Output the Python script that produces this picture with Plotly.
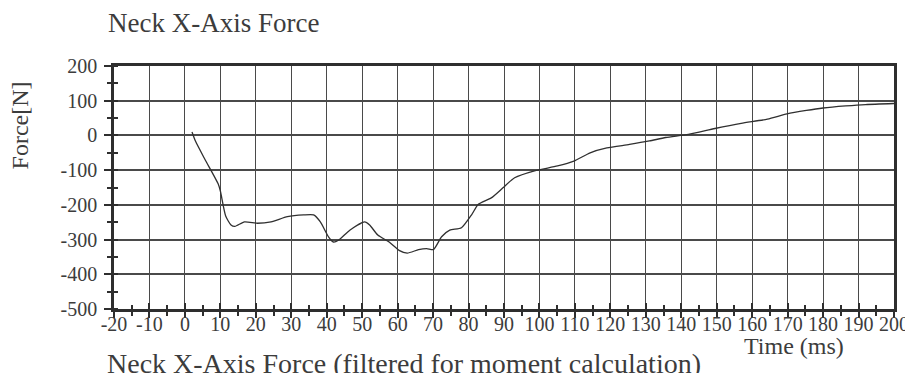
import plotly.graph_objects as go

# ---- data ----
time_ms = [2, 3, 5.7, 9.4, 10, 11.5, 13, 14.1, 16.8, 20.5, 24.3, 28.9, 33.5, 36.3, 38.2,
           40.5, 41.9, 43.3, 46.5, 50.7, 52.1, 54.4, 57.6, 60.4, 62.7, 65.9, 68.2, 70.1,
           72.4, 74.7, 78, 80.9, 82.7, 86.4, 89.7, 93, 98.6, 105.1, 109.7, 114.3, 119,
           125.4, 131, 135.6, 142, 149.5, 156.9, 164.3, 169.8, 175.3, 180, 186.4, 192, 200]
force_n = [10, -17, -70, -140, -160, -232, -258, -262, -249, -253, -249, -234, -229, -229, -249,
           -292, -307, -302, -273, -249, -258, -287, -307, -331, -339, -329, -326, -329,
           -292, -273, -266, -228, -199, -180, -151, -122, -102, -88, -74, -50, -36,
           -26, -16, -6, 3, 20, 35, 47, 62, 72, 79, 85, 89, 92]

x_ticks = list(range(-20, 201, 10))
y_ticks = list(range(-500, 201, 100))

title_text = "Neck X-Axis Force"
x_title = "Time (ms)"
y_title = "Force[N]"
next_title = "Neck X-Axis Force (filtered for moment calculation)"

# ---- layout geometry ----
W, H = 913, 373
L, R, T, B = 106, 15, 58, 72
PW, PH = W - L - R, H - T - B


def xp(px):
    return (px - L) / PW


def yp(py):
    return (H - B - py) / PH


FONT = "Liberation Serif, Times New Roman, serif"
TXT = "#3c3c3c"
GRID = "#4a4a4a"
AX = "#2e2e2e"

fig = go.Figure()
fig.add_trace(go.Scatter(x=time_ms, y=force_n, mode="lines",
                         line=dict(color="#303030", width=1.3, shape="spline", smoothing=0.6),
                         hoverinfo="skip", showlegend=False))
# invisible companion trace for the overlay axes (inside ticks)
fig.add_trace(go.Scatter(x=time_ms, y=force_n, mode="lines", xaxis="x2", yaxis="y2",
                         line=dict(color="rgba(0,0,0,0)", width=0),
                         hoverinfo="skip", showlegend=False))

fig.update_layout(
    width=W, height=H,
    margin=dict(l=L, r=R, t=T, b=B),
    paper_bgcolor="white", plot_bgcolor="white",
    font=dict(family=FONT, color=TXT, size=20),
    xaxis=dict(range=[-20, 200], tickvals=x_ticks, ticktext=[str(v) for v in x_ticks],
               showgrid=True, gridcolor=GRID, gridwidth=1.2, zeroline=False,
               showline=True, linecolor=AX, linewidth=2.6, mirror=True,
               ticks="outside", ticklen=6, tickwidth=1.6, tickcolor=AX,
               ticklabelstandoff=-11,
               minor=dict(dtick=5, tick0=0, ticks="outside", ticklen=4, tickwidth=1.6,
                          tickcolor=AX, showgrid=False),
               tickfont=dict(size=20, family=FONT, color=TXT)),
    yaxis=dict(range=[-500, 200], tickvals=y_ticks, ticktext=[str(v) for v in y_ticks],
               showgrid=True, gridcolor=GRID, gridwidth=1.8, zeroline=False,
               showline=True, linecolor=AX, linewidth=2.6, mirror=True,
               ticks="outside", ticklen=7, tickwidth=1.6, tickcolor=AX,
               ticklabelstandoff=3,
               minor=dict(dtick=50, tick0=0, ticks="outside", ticklen=4, tickwidth=1.6,
                          tickcolor=AX, showgrid=False),
               tickfont=dict(size=20, family=FONT, color=TXT)),
    xaxis2=dict(range=[-20, 200], overlaying="x", anchor="y2", side="bottom",
                tickvals=x_ticks, showticklabels=False, showgrid=False, zeroline=False,
                showline=False, ticks="inside", ticklen=6, tickwidth=1.6, tickcolor=AX,
                minor=dict(dtick=5, tick0=0, ticks="inside", ticklen=4, tickwidth=1.6,
                           tickcolor=AX, showgrid=False)),
    yaxis2=dict(range=[-500, 200], overlaying="y", anchor="x2", side="left",
                tickvals=y_ticks, showticklabels=False, showgrid=False, zeroline=False,
                showline=False, ticks="",
                minor=dict(dtick=50, tick0=0, ticks="inside", ticklen=4, tickwidth=1.6,
                           tickcolor=AX, showgrid=False)),
    annotations=[
        dict(text=title_text, xref="paper", yref="paper", x=xp(98), y=yp(15),
             xanchor="left", yanchor="middle", showarrow=False,
             font=dict(size=27, family=FONT, color=TXT)),
        dict(text=y_title, xref="paper", yref="paper", x=xp(11), y=yp(117),
             xanchor="center", yanchor="middle", textangle=-90, showarrow=False,
             font=dict(size=24, family=FONT, color=TXT)),
        dict(text=x_title, xref="paper", yref="paper", x=xp(796), y=yp(338),
             xanchor="center", yanchor="middle", showarrow=False,
             font=dict(size=24, family=FONT, color=TXT)),
        dict(text=next_title, xref="paper", yref="paper", x=xp(97), y=yp(355),
             xanchor="left", yanchor="middle", showarrow=False,
             font=dict(size=28, family=FONT, color=TXT)),
    ],
)

fig.write_html("out.html")
